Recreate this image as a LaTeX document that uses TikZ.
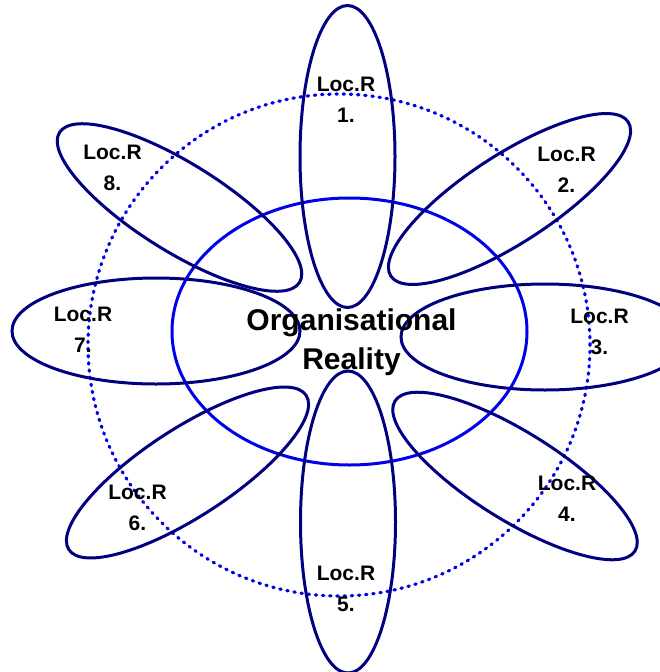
\documentclass[tikz,border=0pt]{standalone}
\usepackage{fontspec}
\setmainfont{Liberation Sans}
\usetikzlibrary{shapes.geometric}
\definecolor{petalblue}{RGB}{0,0,128}
\definecolor{coreblue}{RGB}{0,0,235}
\tikzset{
  petal/.style={draw=petalblue, ellipse, line width=3pt, inner sep=0pt},
  uppetal/.style={petal, minimum width=302pt, minimum height=95pt},
  flatpetal/.style={petal, minimum width=288pt, minimum height=106pt},
  slantpetal/.style={petal, minimum width=283pt, minimum height=88pt},
  core/.style={draw=coreblue, ellipse, line width=3pt, minimum width=355pt, minimum height=267pt, inner sep=0pt},
  ring/.style={draw=coreblue, circle, line width=3.2pt, dash pattern=on 1.4pt off 5.8pt, line cap=round, minimum size=502pt, inner sep=0pt},
  loclabel/.style={align=center, font=\fontsize{21}{31}\selectfont\bfseries},
  corelabel/.style={align=center, font=\fontsize{30}{39}\selectfont\bfseries}
}

\begin{document}
\begin{tikzpicture}[x=1pt,y=-1pt]
\useasboundingbox (0,0) rectangle (660,672);
\clip (0,0) rectangle (660,672);
% outer dotted ring and organisational core
\node[ring] (ring) at (339,345) {};
\node[core] (core) at (349.5,331.5) {};
% local realities
\node[uppetal,rotate=90] (p1) at (347.5,156.5) {};
\node[slantpetal,rotate=33] (p2) at (509.5,199) {};
\node[flatpetal] (p3) at (545,337) {};
\node[slantpetal,rotate=-32] (p4) at (515,476) {};
\node[uppetal,rotate=90] (p5) at (348,522) {};
\node[slantpetal,rotate=33] (p6) at (187.5,472.5) {};
\node[flatpetal] (p7) at (156,331) {};
\node[slantpetal,rotate=-32] (p8) at (179.5,207.5) {};
% labels
\node[loclabel] (l1) at (346,99.5) {Loc.R\\1.};
\node[loclabel] (l2) at (566.5,170) {Loc.R\\2.};
\node[loclabel] (l3) at (599.5,331.5) {Loc.R\\3.};
\node[loclabel] (l4) at (567,499) {Loc.R\\4.};
\node[loclabel] (l5) at (346,589) {Loc.R\\5.};
\node[loclabel] (l6) at (137.5,507.5) {Loc.R\\6.};
\node[loclabel] (l7) at (83,330) {Loc.R\\7.};
\node[loclabel] (l8) at (112.5,168) {Loc.R\\8.};
\node[corelabel] (orglabel) at (351.5,342.5) {Organisational\\Reality};
\end{tikzpicture}
\end{document}
